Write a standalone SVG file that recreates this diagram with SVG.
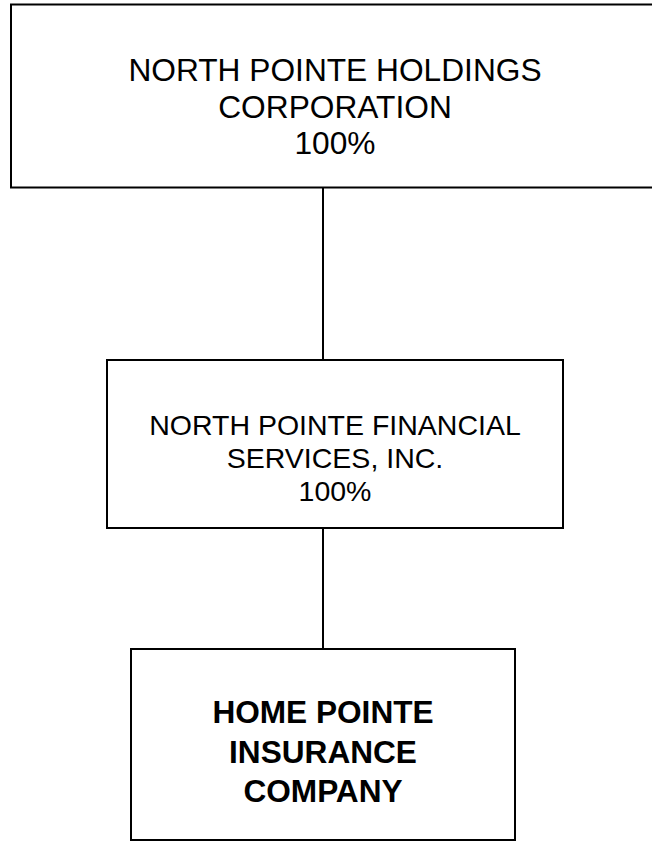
<svg xmlns="http://www.w3.org/2000/svg" width="652" height="841" viewBox="0 0 652 841">
<style>
.box{fill:#fff;stroke:#000;stroke-width:2}
.t{font-family:"Liberation Sans",Arial,sans-serif;fill:#000;text-anchor:middle}
.n{font-size:31.7px}
.m{font-size:28.5px}
.b{font-size:31.6px;font-weight:bold}
.c{stroke:#000;stroke-width:2;fill:none}
</style>
<rect width="652" height="841" fill="#fff"/>
<g id="connectors">
<line class="c" x1="323" y1="187.5" x2="323" y2="360"/>
<line class="c" x1="323" y1="528" x2="323" y2="649"/>
</g>
<g id="north-pointe-holdings">
<rect class="box" x="11" y="4.5" width="650" height="183"/>
<text class="t n" x="335" y="81">NORTH POINTE HOLDINGS</text>
<text class="t n" x="335" y="117.5">CORPORATION</text>
<text class="t n" x="335" y="154">100%</text>
</g>
<g id="north-pointe-financial">
<rect class="box" x="107" y="360" width="456" height="168"/>
<text class="t m" x="335" y="435">NORTH POINTE FINANCIAL</text>
<text class="t m" x="335" y="468">SERVICES, INC.</text>
<text class="t m" x="335" y="501">100%</text>
</g>
<g id="home-pointe">
<rect class="box" x="131" y="649" width="384" height="191"/>
<text class="t b" x="323" y="723">HOME POINTE</text>
<text class="t b" x="323" y="763">INSURANCE</text>
<text class="t b" x="323" y="802">COMPANY</text>
</g>
</svg>
